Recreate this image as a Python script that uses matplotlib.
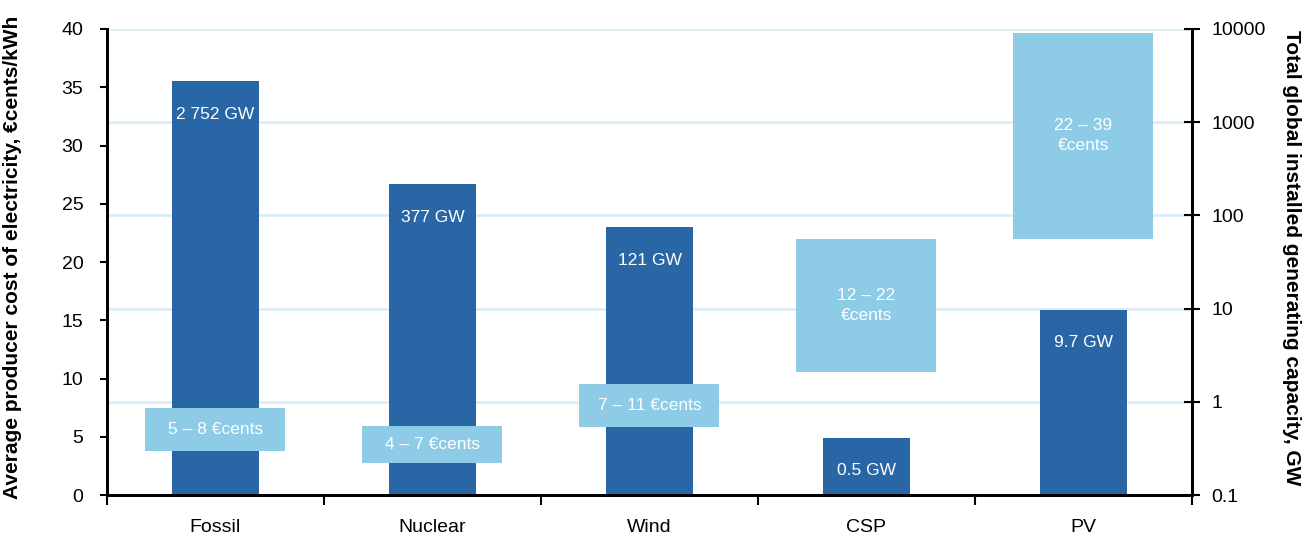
import numpy as np
import matplotlib
matplotlib.use("Agg")
import matplotlib.pyplot as plt
from matplotlib.ticker import FixedLocator, NullLocator

plt.rcParams['font.family'] = ['Liberation Sans', 'DejaVu Sans']

# categories and values
categories = ["Fossil", "Nuclear", "Wind", "CSP", "PV"]
capacity_gw = [2752, 217, 75, 0.41, 9.7]
capacity_labels = ["2 752 GW", "377 GW", "121 GW", "0.5 GW", "9.7 GW"]
cost_low = [3.8, 2.75, 5.85, 10.55, 22.0]
cost_high = [7.45, 5.9, 9.55, 22.0, 39.65]
cost_labels = ["5 – 8 €cents", "4 – 7 €cents", "7 – 11 €cents",
               "12 – 22\n€cents", "22 – 39\n€cents"]

dark = "#2866a5"
light = "#8dcbe6"
grid_col = "#d8ebf6"

fig = plt.figure(figsize=(13.09, 5.41), dpi=100)
ax = fig.add_axes([0.0817, 0.085, 0.8289, 0.8614])
ax2 = ax.twinx()

# capacity bars (log axis) sit behind the cost boxes
ax.set_zorder(ax2.get_zorder() + 1)
ax.patch.set_visible(False)

x = np.arange(len(categories))

ax2.set_yscale("log")
ax2.set_ylim(0.1, 10000)
ax2.yaxis.set_major_locator(FixedLocator([0.1, 1, 10, 100, 1000, 10000]))
ax2.set_yticklabels(["0.1", "1", "10", "100", "1000", "10000"])
ax2.yaxis.set_minor_locator(NullLocator())
ax2.set_axisbelow(True)
ax2.grid(axis="y", color=grid_col, lw=1.8)
ax2.bar(x, np.array(capacity_gw) - 0.1, bottom=0.1, width=0.4, color=dark, zorder=2)
for xi, v, lab in zip(x, capacity_gw, capacity_labels):
    ax2.annotate(lab, (xi, v), xytext=(0, -33), textcoords="offset pixels",
                 ha="center", va="center", color="white", fontsize=12.5, zorder=3)

ax.bar(x, np.array(cost_high) - np.array(cost_low), bottom=cost_low,
       width=0.645, color=light, zorder=3)
for xi, lo, hi, lab in zip(x, cost_low, cost_high, cost_labels):
    ax.text(xi, (lo + hi) / 2, lab, ha="center", va="center", color="white",
            fontsize=12.5, linespacing=1.4, zorder=4)

ax.set_xlim(-0.5, len(categories) - 0.5)
ax.set_ylim(0, 40)
ax.set_yticks(range(0, 41, 5))
ax.set_xticks(x)
ax.set_xticklabels(categories)
ax.set_xticks(np.arange(-0.5, len(categories)), minor=True)
ax.tick_params(axis="x", which="major", length=0, pad=17, labelsize=14)
ax.tick_params(axis="x", which="minor", length=7, width=1.5, direction="out")
ax.tick_params(axis="y", length=5, width=1.5, direction="out", pad=12, labelsize=14)
ax2.tick_params(axis="y", length=12, width=1.5, direction="inout", pad=8, labelsize=14)

for a in (ax, ax2):
    a.spines["top"].set_visible(False)
    for s in ("left", "right", "bottom"):
        a.spines[s].set_linewidth(2)

ax.set_ylabel("Average producer cost of electricity, €cents/kWh",
              fontsize=15, fontweight="bold")
ax.yaxis.set_label_coords(-0.078, 0.51)
ax2.set_ylabel("Total global installed generating capacity, GW",
               fontsize=15, fontweight="bold", rotation=-90, va="center")
ax2.yaxis.set_label_coords(1.092, 0.51)

fig.savefig("out.png", dpi=100)
